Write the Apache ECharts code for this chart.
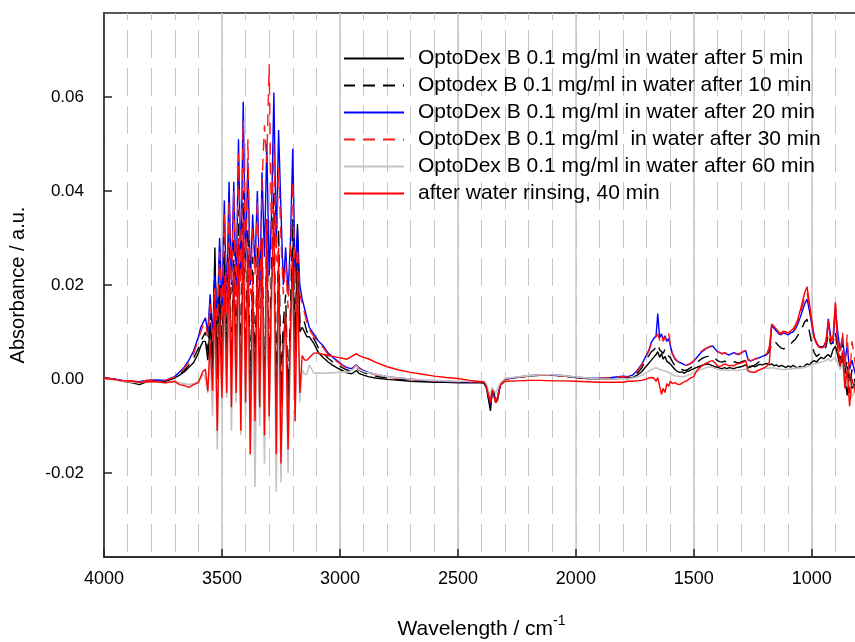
<!DOCTYPE html>
<html>
<head>
<meta charset="utf-8">
<script src="https://cdn.jsdelivr.net/npm/echarts@6/dist/echarts.min.js"></script>
<style>
html,body{margin:0;padding:0;background:#fff;}
#chart{width:855px;height:642px;}
</style>
</head>
<body>
<div id="chart"></div>
<script>
// Wavenumbers (cm^-1), shared by all series
const wavenumber = [
  4000,3960,3920,3880,3850,3820,3780,3740,3700,3680,3660,3640,3620,3600,3590,3580,
  3570,3560,3550,3540,3530,3520,3510,3500,3490,3480,3470,3460,3450,3440,3430,3420,3410,3400,3390,3380,3370,3360,3350,3340,3330,3320,3310,3300,3290,3280,3270,3260,3250,3240,3230,3220,3210,3200,3190,3180,3170,3160,3150,3140,
  3130,3110,3090,3070,3050,3030,3010,2990,2970,2950,2930,2920,2900,2880,2850,2800,2750,2700,2650,2600,2550,2500,2450,2420,2400,
  2390,2380,2370,2362,2355,2348,2340,2332,2320,2300,
  2250,2200,2150,2100,2050,2000,1950,1900,1850,1800,
  1780,1760,1740,1720,1700,1690,1680,1670,1660,1653,1645,1637,1630,1622,1615,1607,1600,
  1590,1580,1570,1560,1550,1540,1530,1520,1510,1500,
  1490,1480,1470,1460,1450,1440,1430,1420,1410,1400,
  1390,1380,1370,1360,1350,1340,1330,1320,1310,1300,
  1290,1280,1270,1260,1250,1240,1230,1220,1210,1200,
  1190,1180,1170,1160,1150,1140,1130,1120,1110,1100,
  1090,1080,1070,1060,1050,1040,1030,1020,1010,1000,
  990,980,970,960,950,940,930,920,910,900,
  890,880,870,860,850,840,830,815
];

// Absorbance values in milli-absorbance units (10^-3 a.u.)
const after5 = [
  0.2,0,-0.5,-0.8,-1.2,-0.6,-0.4,-0.5,0.2,0.8,1.5,2.5,3.5,5.5,7,8,
  8,4,12,2,28,0,20,-3,25,2, 24,-4,22,0,26,-6,28,-2,22,-8, 18,-3,20,-6,22,-9,24,-4,18,26, -10,22,-6,8,14,-7,10,28,2,33, 10,11,10,9,
  9,7.5,5.5,4.5,3.6,2.9,2.3,1.8,1.3,1.1,1.8,1.2,0.8,0.5,0.2,-0.1,-0.3,-0.5,-0.6,-0.7,-0.7,-0.8,-0.8,-0.8,-0.8,
  -0.9,-1.8,-4.5,-6.8,-3,-2.5,-5,-4.5,-1.2,0,
  0.3,0.6,0.8,0.8,0.6,0.3,0.1,0,0,0.2,
  0.1,0.3,0.8,1.6,2.8,3.4,4.0,4.6,5.2,5.8,4.6,5.4,4.2,4.8,3.8,4.2,3.2,
  2.6,2.0,1.6,1.4,1.5,1.2,1.6,1.7,2.0,2.2,
  2.4,2.6,2.8,3.0,3.1,3.2,3.0,2.8,2.6,2.5,
  2.3,2.2,2.4,2.2,2.4,2.3,2.2,2.4,2.5,2.6,
  2.8,3.0,2.4,2.6,2.8,2.6,2.9,3.1,3.0,3.2,
  3.3,3.0,3.2,2.8,3.0,2.6,2.9,2.7,2.4,2.8,
  2.5,2.9,2.6,2.3,2.7,2.4,2.8,3.2,3.0,3.6,
  3.9,3.6,4.2,4.6,4.3,4.8,5.2,4.6,6.2,7.0,
  5.0,2.5,4.5,0.5,-3.5,1.0,-2.0,-1.0
];
const after10 = [
  0.2,0,-0.4,-0.7,-1,-0.5,-0.3,-0.4,0.3,1,1.8,3,4.5,6.5,8,9,
  10,6,14,4,26,5,28,3,30,6, 32,2,30,4,36,0,40,3,32,-2, 26,2,28,-2,30,-4,34,2,24,40, -4,32,0,12,18,-3,14,34,6,30, 12,13,12,10,
  10,8.5,6.5,5.5,4.4,3.6,3.0,2.4,1.9,1.7,2.5,1.9,1.4,1.0,0.6,0.2,-0.1,-0.3,-0.4,-0.5,-0.6,-0.7,-0.7,-0.7,-0.7,
  -0.8,-1.6,-4,-6.2,-2.8,-2.4,-4.8,-4.2,-1.1,0,
  0.3,0.6,0.8,0.8,0.6,0.3,0.1,0.1,0.2,0.4,
  0.3,0.6,1.2,2.4,4.4,5.0,5.8,6.2,6.8,7.4,6.2,6.6,5.4,6.4,5.2,5.6,4.6,
  3.6,2.8,2.4,2.2,2.0,1.8,1.9,2.2,2.5,2.9,
  3.3,3.8,4.2,4.5,4.7,4.8,4.9,4.9,4.4,3.9,
  3.7,3.6,3.8,3.6,3.4,3.6,3.7,3.5,3.4,3.6,
  3.8,4.0,2.8,2.6,2.8,3.0,3.4,3.8,4.2,4.8,
  5.3,5.8,7.5,8.1,7.6,7.0,6.6,6.4,6.6,7.0,
  7.4,8.0,8.4,9.2,10.0,11.0,12.2,12.7,10.0,7.5,
  5.6,4.8,5.2,6.0,6.4,6.8,9.6,7.4,7.8,10.0,
  6.0,4.0,8.0,1.0,4.0,-3.0,2.0,-1.0
];
const after20 = [
  0.2,0,-0.3,-0.5,-0.6,-0.3,-0.2,-0.3,0.5,1.5,2.5,4,6,9,11,12,
  13,10,18,9,22,12,30,14,38,16, 42,20,42,18,51,22,59,25,46,20, 35,24,40,18,44,26,50,22,35,61, 28,53,36,20,28,18,29,49,22,32, 20,17,15,13,
  11,9.5,8,7,5.5,4.6,3.8,3.0,2.4,2.2,3.0,2.4,1.8,1.4,1.0,0.5,0.2,0,-0.3,-0.4,-0.5,-0.6,-0.6,-0.6,-0.6,
  -0.8,-1.5,-3.5,-5.5,-2.5,-2.3,-4.5,-4,-1,0,
  0.4,0.7,0.9,0.9,0.7,0.4,0.2,0.1,0.3,0.6,
  0.5,0.8,1.8,3.2,5.2,6.2,7.8,8.6,9.2,13.9,8.8,9.6,8.4,9.2,8.0,8.6,7.2,
  5.2,4.2,3.8,3.5,3.3,3.0,2.9,3.1,3.4,3.8,
  4.4,5.0,5.6,6.0,6.4,6.7,6.9,7.0,6.4,5.8,
  5.6,5.4,5.6,5.3,5.1,5.4,5.6,5.3,5.2,5.5,
  5.8,6.0,4.0,3.8,4.0,4.2,4.4,4.6,4.8,5.0,
  5.3,6.5,11.3,10.8,10.2,9.6,9.4,9.8,9.6,9.4,
  9.8,10.0,10.6,11.6,13.0,14.5,16.0,17.0,14.5,11.5,
  8.8,7.6,7.0,6.8,7.0,7.6,12.8,9.0,7.5,15.0,
  10,6.0,9.0,4.0,7.0,2.0,4.0,1.0
];
const after30 = [
  0.2,0,-0.3,-0.5,-0.6,-0.3,-0.2,-0.3,0.4,1.3,2.3,3.6,5.4,8.5,10,11.4,
  12,9,16,8,20,10,27,12,35,14, 38,18,40,15,48,20,55,22,51,18, 32,22,38,15,42,54,46,67,30,50, 25,45,30,18,25,15,26,42,20,28, 18,16,14,12,
  10.5,9,7.6,6.6,5.2,4.4,3.6,2.9,2.3,2.1,2.9,2.3,1.7,1.3,0.9,0.4,0.1,-0.1,-0.3,-0.4,-0.5,-0.6,-0.6,-0.6,-0.6,
  -0.8,-1.5,-3.5,-5.3,-2.4,-2.2,-4.6,-4,-1,0,
  0.3,0.6,0.8,0.8,0.6,0.3,0.2,0.1,0.3,0.5,
  0.4,0.7,1.6,3.0,5.0,6.0,7.5,8.2,9.0,9.6,8.2,9.4,8.0,9.0,8.2,9.7,7.4,
  5.4,4.4,3.8,3.4,3.2,3.0,2.9,3.2,3.5,3.9,
  4.5,5.2,5.8,6.2,6.5,6.7,7.0,7.0,6.4,5.9,
  5.6,5.3,5.6,5.4,5.2,5.5,5.6,5.4,5.3,5.6,
  5.9,6.1,4.2,3.9,4.0,4.3,4.5,4.7,4.9,5.1,
  5.4,6.8,11.5,11.0,10.4,9.8,9.6,10.0,9.8,9.6,
  10.0,10.3,11.0,12.2,13.8,15.5,17.4,18.4,15.5,12.2,
  9.0,7.8,7.2,7.0,7.2,8.0,12.4,8.8,8.0,16.0,
  8.0,5.0,10.0,2.0,9.5,-1.0,8.0,3.0
];
const after60 = [
  0,-0.2,-0.5,-0.7,-0.8,-0.6,-0.6,-0.8,-0.6,-0.8,-1,-1.2,-1,-0.5,0,1,
  0,-3,6,-8,14,-15,12,-6,18,-4, 20,-11,16,-5,22,-12,25,-8,18,-16, 14,-23,16,-10,20,-18,22,-9,15,24, -24,18,-22,4,10,-20,6,20,-9,18, -5,2,1,1,
  3,1.2,1.3,1.2,1.3,1.3,1.4,1.5,1.5,1.8,2.8,2.0,1.6,1.3,1.0,0.5,0.2,0,-0.2,-0.3,-0.4,-0.5,-0.5,-0.5,-0.5,
  -0.6,-1,-2.5,-3.6,-1.8,-1.5,-3,-2.8,-0.8,0.1,
  0.4,0.7,0.9,0.9,0.7,0.4,0.2,0,0,0.1,
  0,0.2,0.4,0.8,1.4,1.7,2.0,2.2,2.4,2.6,2.0,2.4,1.8,2.2,1.6,1.8,1.2,
  0.9,0.7,0.6,0.5,0.5,0.5,0.7,0.9,1.1,1.3,
  1.5,1.8,2.0,2.2,2.4,2.5,2.5,2.5,2.2,2.0,
  1.9,1.9,2.0,1.9,1.8,1.9,1.9,1.8,1.8,1.9,
  2.0,2.2,1.6,1.5,1.6,1.7,1.9,2.0,2.1,2.2,
  2.3,2.3,2.4,2.3,2.2,2.1,2.0,2.0,2.0,2.1,
  2.1,2.2,2.2,2.3,2.3,2.4,2.5,2.6,2.8,3.0,
  3.2,3.3,3.5,3.6,3.7,3.9,4.3,3.8,4.2,4.6,
  3.4,2.0,3.5,-0.5,-1.5,-0.5,-4.0,-2.0
];
const rinsed = [
  0.1,-0.1,-0.4,-0.5,-0.7,-0.6,-0.6,-0.8,-0.5,-1.2,-1.4,-1.8,-1.2,-0.8,0.5,1.7,
  2,-2.6,8,-2.5,18,-11,14,-4,22,-3, 26,-6,24,-3,30,-11,34,-5,28,-16, 22,-9,26,-6,30,-12,34,-8,20,36, -16,28,-18,6,14,-15,10,26,-9,22, -3,5,4,4,
  4.5,5.5,5.5,5.2,5.0,4.8,4.6,4.4,4.2,4.8,5.4,5.0,4.6,4.3,3.6,2.6,1.9,1.4,1.0,0.6,0.3,0.1,-0.3,-0.5,-0.6,
  -0.6,-1.5,-3.5,-5.1,-2.3,-2.1,-5.1,-4.2,-1.4,-0.5,
  -0.4,-0.3,-0.3,-0.4,-0.4,-0.5,-0.6,-0.7,-0.7,-0.7,
  -0.5,-0.5,-0.4,-0.3,0,0.2,0.3,0.2,-0.5,0.3,-1.5,-3.3,-2.0,-2.9,-1.0,-1.6,-0.5,
  -1.0,-0.8,-1.1,-1.2,-0.9,-0.6,-0.4,0,0.3,0.5,
  1.6,2.2,2.6,3.0,3.3,3.5,3.8,3.9,3.4,2.8,
  2.6,2.9,3.2,3.0,2.8,2.9,2.8,3.1,3.3,3.4,
  3.6,3.9,1.8,1.5,1.4,1.4,1.7,2.0,2.2,2.4,
  2.8,3.5,11.7,11.2,10.6,10.0,9.7,10.2,10.0,9.8,
  10.2,10.6,11.4,12.6,14.4,16.4,18.4,19.6,16.0,12.4,
  9.0,7.5,6.8,6.6,6.8,7.8,12.0,8.0,9.0,16.3,
  6.0,3.0,6.0,-2.0,2.0,-5.8,0.0,-3.0
];

const seriesNames = [
  'OptoDex B 0.1 mg/ml in water after 5 min',
  'Optodex B 0.1 mg/ml in water after 10 min',
  'OptoDex B 0.1 mg/ml in water after 20 min',
  'OptoDex B 0.1 mg/ml  in water after 30 min',
  'OptoDex B 0.1 mg/ml in water after 60 min',
  'after water rinsing, 40 min'
];
const xTickValues = [4000, 3500, 3000, 2500, 2000, 1500, 1000];
const yTickValues = [-20, 0, 20, 40, 60];   // in 10^-3 a.u.

const FONT = "'Liberation Sans', Arial, Helvetica, sans-serif";
const seriesValues = [after5, after10, after20, after30, after60, rinsed];
const styles = [
  {color: '#000000', type: 'solid', width: 1.4},
  {color: '#000000', type: [12, 8], width: 1.4},
  {color: '#0000ff', type: 'solid', width: 1.4},
  {color: '#ff1a1a', type: [12, 8], width: 1.4},
  {color: '#c4c4c4', type: 'solid', width: 1.6},
  {color: '#ff0000', type: 'solid', width: 1.4}
];

const series = seriesNames.map((name, i) => ({
  name: name,
  type: 'line',
  xAxisIndex: 0,
  yAxisIndex: 0,
  symbol: 'none',
  showSymbol: false,
  animation: false,
  clip: true,
  lineStyle: {color: styles[i].color, type: styles[i].type, width: styles[i].width},
  itemStyle: {color: styles[i].color},
  data: wavenumber.map((w, k) => [w, seriesValues[i][k]])
}));

const chart = echarts.init(document.getElementById('chart'), null, {renderer: 'canvas'});
chart.setOption({
  animation: false,
  backgroundColor: '#ffffff',
  textStyle: {fontFamily: FONT, color: '#000'},
  grid: {left: 104, right: -4, top: 13, bottom: 85, outerBoundsMode: 'none', containLabel: false,
    show: true, borderColor: '#222', borderWidth: 1.5, backgroundColor: 'transparent'},
  legend: {
    orient: 'vertical',
    left: 338,
    top: 43,
    itemWidth: 60,
    itemHeight: 20,
    itemGap: 6,
    data: seriesNames,
    itemStyle: {color: 'transparent', borderWidth: 0, opacity: 0},
    textStyle: {fontSize: 21, color: '#000', fontFamily: FONT, padding: [0, 0, 0, 9]}
  },
  xAxis: [
    {
      type: 'value', min: 800, max: 4000, interval: 100, inverse: true,
      position: 'bottom',
      axisLine: {show: true, onZero: false, lineStyle: {color: '#222', width: 1.5}},
      axisTick: {show: false},
      axisLabel: {show: false},
      splitLine: {show: true, lineStyle: {color: '#c6c6c6', width: 1, type: [28, 10], dashOffset: 21}}
    },
    {
      type: 'value', min: 800, max: 4000, interval: 100, inverse: true,
      position: 'bottom',
      axisLine: {show: false, onZero: false},
      axisTick: {show: true, inside: true, length: 8, customValues: xTickValues, lineStyle: {color: '#222', width: 1.5}},
      axisLabel: {show: true, customValues: xTickValues, margin: 13, fontSize: 18, color: '#000', fontFamily: FONT,
        formatter: v => String(v)},
      splitLine: {show: true, lineStyle: {color: '#c6c6c6', width: 1.5, type: 'solid'}},
      name: '{a|Wavelength / cm}{b|-1}',
      nameLocation: 'middle',
      nameGap: 57,
      nameTextStyle: {
        rich: {
          a: {fontSize: 21, fontFamily: FONT, color: '#000', verticalAlign: 'bottom', lineHeight: 26},
          b: {fontSize: 14, fontFamily: FONT, color: '#000', verticalAlign: 'top', lineHeight: 26}
        }
      }
    }
  ],
  yAxis: {
    type: 'value', min: -37.9, max: 77.9,
    axisLine: {show: true, onZero: false, lineStyle: {color: '#222', width: 1.5}},
    axisTick: {show: true, inside: true, length: 8, customValues: yTickValues, lineStyle: {color: '#222', width: 1.5}},
    axisLabel: {show: true, customValues: yTickValues, margin: 20, fontSize: 17, color: '#000', fontFamily: FONT,
      formatter: v => (v / 1000).toFixed(2)},
    splitLine: {show: false},
    name: 'Absorbance / a.u.',
    nameLocation: 'middle',
    nameGap: 76,
    nameTextStyle: {fontSize: 20, color: '#000', fontFamily: FONT}
  },
  series: series
});
</script>
</body>
</html>
